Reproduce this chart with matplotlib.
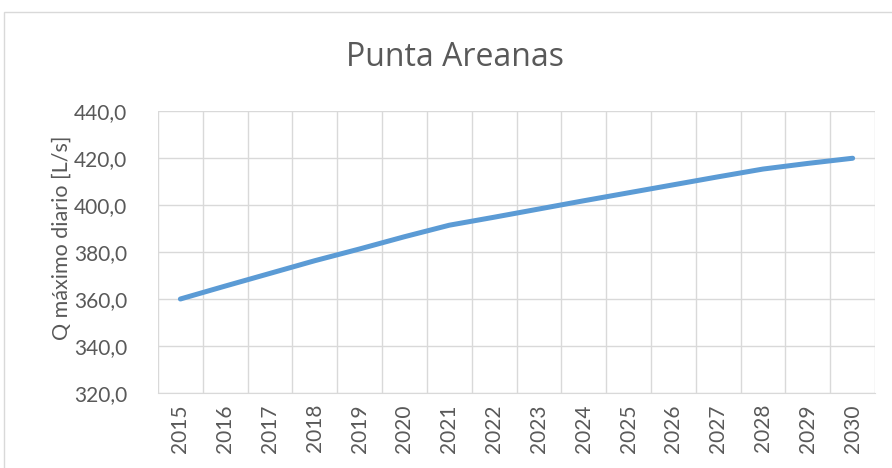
import matplotlib.pyplot as plt
from matplotlib.patches import Rectangle

# --- data ---
years = [str(y) for y in range(2015, 2031)]
q_max = [360.0, 365.5, 370.9, 376.3, 381.3, 386.5, 391.4, 394.8,
         398.3, 401.8, 405.2, 408.6, 412.0, 415.3, 417.7, 419.9]
y_ticks = [320, 340, 360, 380, 400, 420, 440]

plt.rcParams['font.family'] = ['Lato', 'DejaVu Sans']
txt = '#595959'
grid = '#D9D9D9'

fig = plt.figure(figsize=(8.92, 4.68), dpi=100)
# chart frame like the Excel chart area border
fig.patches.append(Rectangle((4 / 892, -0.1), 1.2, (468 - 12) / 468 + 0.1,
                             transform=fig.transFigure, fill=False,
                             edgecolor=grid, linewidth=1))

ax = fig.add_axes([0.1771, 0.1603, 0.8039, 0.6025])
x = list(range(len(years)))
ax.plot(x, q_max, color='#5B9BD5', linewidth=3.6, solid_capstyle='round', zorder=3)

ax.set_xlim(-0.5, len(years) - 0.5)
ax.set_ylim(320, 440)
ax.set_yticks(y_ticks)
ax.set_yticklabels([f"{v:.1f}".replace('.', ',') for v in y_ticks])
ax.set_xticks(x)
ax.set_xticklabels(years, rotation=90)
ax.set_xticks([i - 0.5 for i in range(len(years) + 1)], minor=True)

ax.grid(True, axis='y', which='major', color=grid, linewidth=1)
ax.grid(True, axis='x', which='minor', color=grid, linewidth=1)
ax.tick_params(axis='both', which='both', length=0, colors=txt, labelsize=15)
ax.tick_params(axis='y', pad=22)
ax.tick_params(axis='x', pad=8)
for s in ['top', 'right', 'left']:
    ax.spines[s].set_visible(False)
ax.spines['bottom'].set_color(grid)

ax.set_ylabel('Q máximo diario [L/s]', color=txt, fontsize=15.5)
ax.yaxis.set_label_coords(-0.121, 0.55)
fig.text(0.51, 0.878, 'Punta Areanas', ha='center', va='center', color=txt,
         fontsize=23, family=['Open Sans', 'DejaVu Sans'])

fig.savefig('out.png', dpi=100)
